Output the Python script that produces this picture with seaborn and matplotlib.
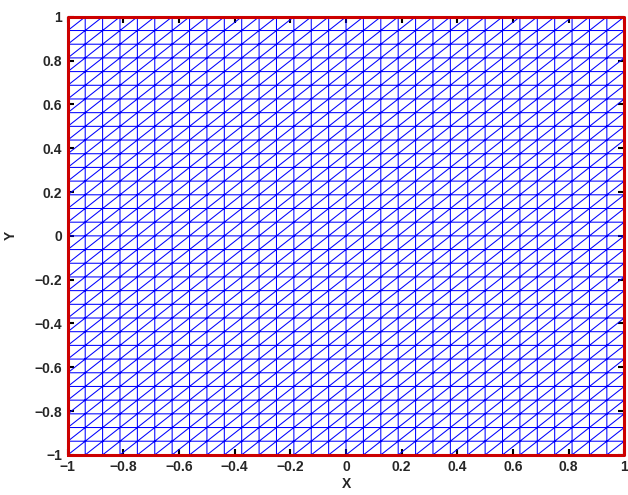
import matplotlib
matplotlib.use("Agg")
import matplotlib.pyplot as plt
import matplotlib.tri as mtri
import numpy as np
import seaborn as sns

# mesh description: square domain split into n_cells x n_cells squares, each cut by a / diagonal
x_range = [-1.0, 1.0]
y_range = [-1.0, 1.0]
n_cells = 32
ticks = [-1, -0.8, -0.6, -0.4, -0.2, 0, 0.2, 0.4, 0.6, 0.8, 1]
tick_labels = ["\u22121", "\u22120.8", "\u22120.6", "\u22120.4", "\u22120.2", "0",
               "0.2", "0.4", "0.6", "0.8", "1"]

sns.set_style("white")
plt.rcParams['font.family'] = ['Liberation Sans', 'DejaVu Sans']

# build the nodes and triangles
xs = np.linspace(x_range[0], x_range[1], n_cells + 1)
ys = np.linspace(y_range[0], y_range[1], n_cells + 1)
X, Y = np.meshgrid(xs, ys)
n = n_cells + 1
tris = []
for j in range(n_cells):
    for i in range(n_cells):
        a = j * n + i
        b = a + 1
        c = a + n + 1
        d = a + n
        tris.append([a, b, c])
        tris.append([a, c, d])
tri = mtri.Triangulation(X.ravel(), Y.ravel(), np.array(tris))

fig = plt.figure(figsize=(6.28, 4.95), dpi=100)
ax = fig.add_axes([0.108, 0.081, 0.886, 0.885])
ax.triplot(tri, color='#0000ff', lw=0.75)

# red boundary
bx = [x_range[0], x_range[1], x_range[1], x_range[0], x_range[0]]
by = [y_range[0], y_range[0], y_range[1], y_range[1], y_range[0]]
ax.plot(bx, by, color='#cc0000', lw=2.2, clip_on=False, zorder=5)

ax.set_xlim(x_range)
ax.set_ylim(y_range)
ax.set_xticks(ticks)
ax.set_xticklabels(tick_labels, fontweight='bold', fontsize=10)
ax.set_yticks(ticks)
ax.set_yticklabels(tick_labels, fontweight='bold', fontsize=10)
ax.tick_params(direction='in', length=4, width=1.5, color='black',
               top=True, right=True, bottom=True, left=True, pad=4)
for s in ax.spines.values():
    s.set_color('black')
    s.set_linewidth(1.0)
ax.set_xlabel('X', fontweight='bold', fontsize=10, labelpad=2)
ax.set_ylabel('Y', fontweight='bold', fontsize=10, labelpad=12)

fig.savefig('out.png', dpi=100)
